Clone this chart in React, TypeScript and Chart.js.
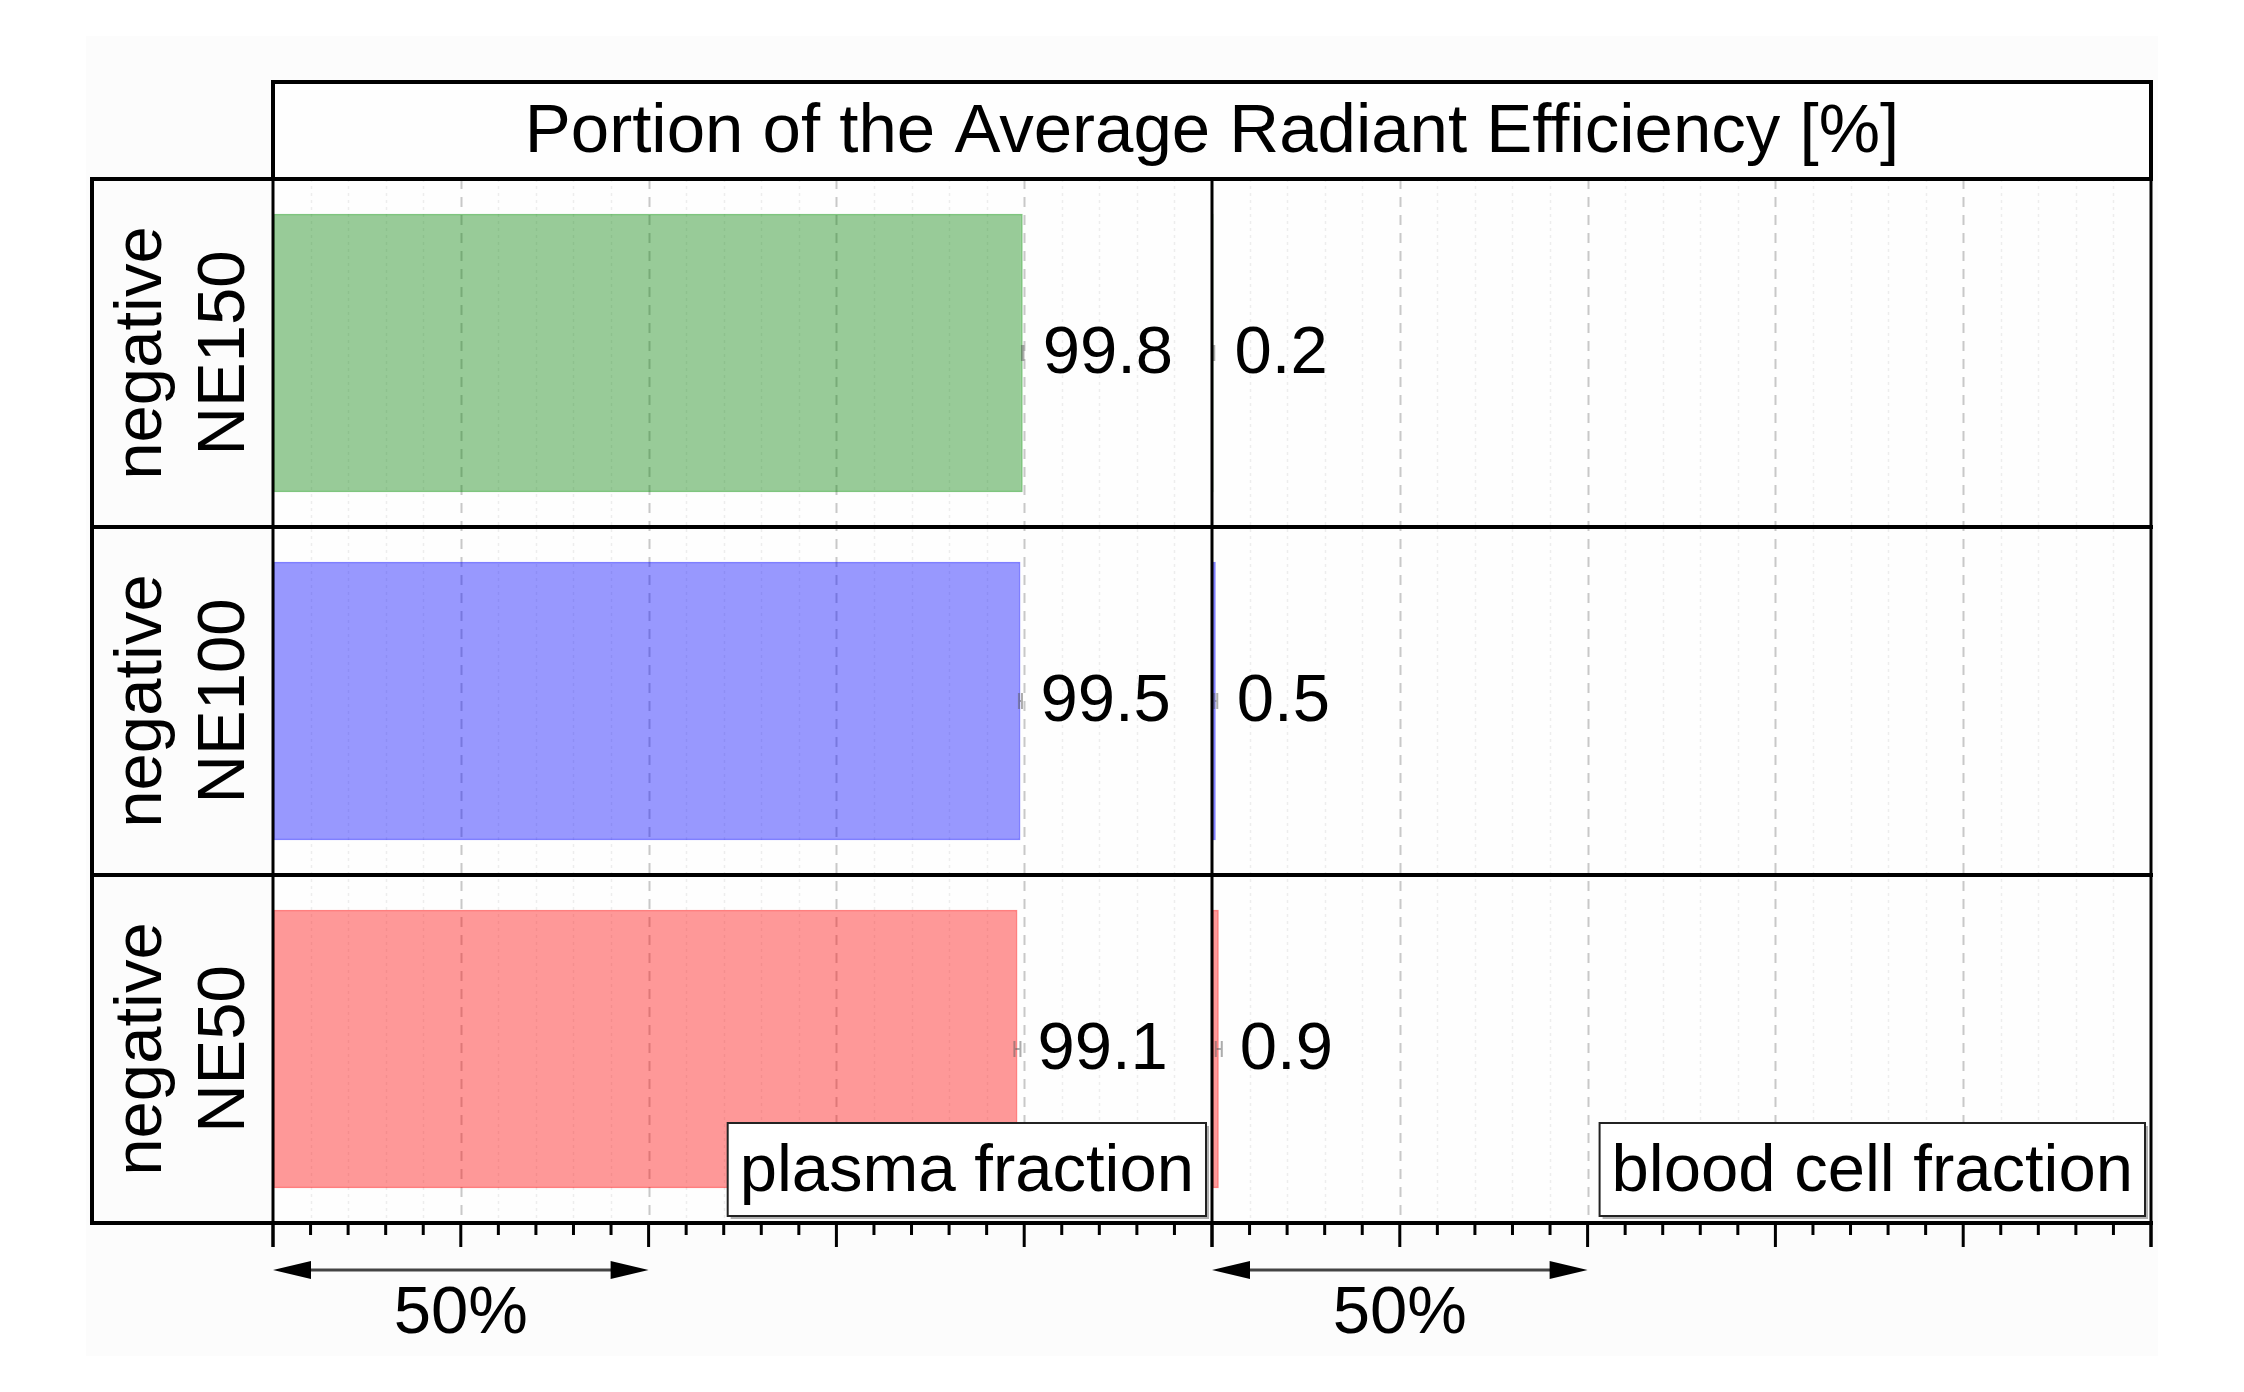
import React, { useEffect, useRef } from 'react';
import { Chart, registerables } from 'chart.js';

Chart.register(...registerables);

// ---- data ----
const groupLabel = 'negative';
const categories = ['NE150', 'NE100', 'NE50'];
const plasmaValues = [99.8, 99.5, 99.1];
const plasmaErrors = [0.1, 0.2, 0.4];
const bloodValues = [0.2, 0.5, 0.9];
const bloodErrors = [0.1, 0.2, 0.4];
const fillColors = ['rgba(0,128,0,0.4)', 'rgba(0,0,255,0.4)', 'rgba(255,0,0,0.4)'];
const edgeColors = ['rgba(0,140,0,0.5)', 'rgba(0,0,255,0.5)', 'rgba(255,0,0,0.5)'];
const panelLabels = ['plasma fraction', 'blood cell fraction'];
const titleText = 'Portion of the Average Radiant Efficiency [%]';
const panelMax = 125;
const majorStep = 25;
const minorStep = 5;
const scaleBarValue = 50;
const scaleBarLabel = '50%';

const FONT = '"Liberation Sans", Arial, Helvetica, sans-serif';
const TITLE_H = 97;
const LABEL_COL_W = 181;
const TICK_MAJOR = 24;
const TICK_MINOR = 12;

const decorPlugin = {
  id: 'decor',
  beforeDraw(chart: any) {
    const ctx = chart.ctx;
    const a = chart.chartArea;
    ctx.save();
    ctx.fillStyle = '#ffffff';
    ctx.fillRect(0, 0, chart.width, chart.height);
    ctx.fillStyle = '#fcfcfc';
    ctx.fillRect(86, 36, 2072, 1320);
    ctx.fillStyle = '#fefefe';
    ctx.fillRect(a.left, a.top - TITLE_H, a.right - a.left, a.bottom - a.top + TITLE_H);
    ctx.restore();
  },
  beforeDatasetsDraw(chart: any) {
    const { ctx, chartArea: a } = chart;
    const x = chart.scales.x;
    ctx.save();
    for (let p = 0; p < 2; p++) {
      for (let v = minorStep; v < panelMax; v += minorStep) {
        const px = Math.round(x.getPixelForValue(p * panelMax + v)) + 0.5;
        const major = v % majorStep === 0;
        ctx.beginPath();
        ctx.setLineDash(major ? [10, 8] : [3, 4]);
        ctx.strokeStyle = major ? '#c8c8c8' : '#ededed';
        ctx.lineWidth = major ? 2 : 1.5;
        ctx.moveTo(px, a.top);
        ctx.lineTo(px, a.bottom);
        ctx.stroke();
      }
    }
    ctx.restore();
  },
  afterDatasetsDraw(chart: any) {
    const { ctx, chartArea: a } = chart;
    const x = chart.scales.x;
    const y = chart.scales.y;
    const n = categories.length;
    const band = (a.bottom - a.top) / n;
    const labelLeft = a.left - LABEL_COL_W;
    const mid = x.getPixelForValue(panelMax);
    ctx.save();

    // error bars
    ctx.strokeStyle = 'rgba(90,90,90,0.5)';
    ctx.lineWidth = 2;
    const drawErr = (v: number, e: number, cy: number) => {
      const x1 = x.getPixelForValue(v - e);
      const x2 = x.getPixelForValue(v + e);
      ctx.beginPath();
      ctx.moveTo(x1, cy); ctx.lineTo(x2, cy);
      ctx.moveTo(x1, cy - 8); ctx.lineTo(x1, cy + 8);
      ctx.moveTo(x2, cy - 8); ctx.lineTo(x2, cy + 8);
      ctx.stroke();
    };
    for (let i = 0; i < n; i++) {
      const cy = y.getPixelForValue(i);
      drawErr(plasmaValues[i], plasmaErrors[i], cy);
      drawErr(panelMax + bloodValues[i], bloodErrors[i], cy);
    }

    // value labels
    ctx.fillStyle = '#000';
    ctx.font = `67px ${FONT}`;
    ctx.textAlign = 'left';
    ctx.textBaseline = 'middle';
    for (let i = 0; i < n; i++) {
      const cy = y.getPixelForValue(i) + 2;
      ctx.fillText(plasmaValues[i].toFixed(1), x.getPixelForValue(plasmaValues[i]) + 20, cy);
      ctx.fillText(bloodValues[i].toFixed(1), x.getPixelForValue(panelMax + bloodValues[i]) + 21, cy);
    }

    // frame
    ctx.strokeStyle = '#000';
    ctx.lineWidth = 4;
    ctx.strokeRect(a.left, a.top - TITLE_H, a.right - a.left, TITLE_H);
    for (let i = 0; i <= n; i++) {
      const yy = a.top + band * i;
      ctx.beginPath();
      ctx.moveTo(labelLeft - 2, yy);
      ctx.lineTo(a.right + 2, yy);
      ctx.stroke();
    }
    ctx.beginPath();
    ctx.moveTo(labelLeft, a.top);
    ctx.lineTo(labelLeft, a.bottom);
    ctx.stroke();
    ctx.lineWidth = 3;
    ctx.beginPath();
    ctx.moveTo(a.left, a.top - TITLE_H);
    ctx.lineTo(a.left, a.bottom + TICK_MAJOR);
    ctx.moveTo(a.right, a.top - TITLE_H);
    ctx.lineTo(a.right, a.bottom + TICK_MAJOR);
    ctx.moveTo(mid, a.top);
    ctx.lineTo(mid, a.bottom + TICK_MAJOR);
    ctx.stroke();

    // ticks
    ctx.lineWidth = 3;
    ctx.beginPath();
    for (let p = 0; p < 2; p++) {
      for (let v = 0; v <= panelMax; v += minorStep) {
        const px = x.getPixelForValue(p * panelMax + v);
        const len = v % majorStep === 0 ? TICK_MAJOR : TICK_MINOR;
        ctx.moveTo(px, a.bottom);
        ctx.lineTo(px, a.bottom + len);
      }
    }
    ctx.stroke();

    // panel label boxes
    ctx.font = `67px ${FONT}`;
    for (let p = 0; p < 2; p++) {
      const tw = ctx.measureText(panelLabels[p]).width;
      const bw = tw + 24;
      const bh = 93;
      const right = x.getPixelForValue((p + 1) * panelMax) - 6;
      const bottom = a.bottom - 7;
      const left = right - bw;
      const top = bottom - bh;
      ctx.fillStyle = '#b0b0b0';
      ctx.fillRect(left + 3, top + 3, bw, bh);
      ctx.fillStyle = '#ffffff';
      ctx.fillRect(left, top, bw, bh);
      ctx.strokeStyle = '#222';
      ctx.lineWidth = 2;
      ctx.strokeRect(left, top, bw, bh);
      ctx.fillStyle = '#000';
      ctx.textAlign = 'left';
      ctx.textBaseline = 'middle';
      ctx.fillText(panelLabels[p], left + 12, top + bh / 2 + 3);
    }

    // scale-bar arrows
    const ay = a.bottom + 47;
    for (let p = 0; p < 2; p++) {
      const x1 = x.getPixelForValue(p * panelMax);
      const x2 = x.getPixelForValue(p * panelMax + scaleBarValue);
      ctx.strokeStyle = '#444';
      ctx.lineWidth = 3;
      ctx.beginPath();
      ctx.moveTo(x1 + 20, ay);
      ctx.lineTo(x2 - 20, ay);
      ctx.stroke();
      ctx.fillStyle = '#000';
      ctx.beginPath();
      ctx.moveTo(x1, ay);
      ctx.lineTo(x1 + 38, ay - 9);
      ctx.lineTo(x1 + 38, ay + 9);
      ctx.closePath();
      ctx.fill();
      ctx.beginPath();
      ctx.moveTo(x2, ay);
      ctx.lineTo(x2 - 38, ay - 9);
      ctx.lineTo(x2 - 38, ay + 9);
      ctx.closePath();
      ctx.fill();
      ctx.font = `67px ${FONT}`;
      ctx.textAlign = 'center';
      ctx.textBaseline = 'middle';
      ctx.fillText(scaleBarLabel, x.getPixelForValue(p * panelMax + scaleBarValue / 2), a.bottom + 92);
    }

    // row labels
    ctx.fillStyle = '#000';
    ctx.font = `67px ${FONT}`;
    ctx.textAlign = 'center';
    ctx.textBaseline = 'middle';
    const cx = labelLeft + LABEL_COL_W / 2;
    for (let i = 0; i < n; i++) {
      const cy = y.getPixelForValue(i);
      ctx.save();
      ctx.translate(cx, cy);
      ctx.rotate(-Math.PI / 2);
      ctx.fillText(groupLabel, 0, -40);
      ctx.fillText(categories[i], 0, 43);
      ctx.restore();
    }

    // title
    ctx.font = `69px ${FONT}`;
    ctx.textAlign = 'center';
    ctx.textBaseline = 'middle';
    ctx.fillText(titleText, (a.left + a.right) / 2, a.top - TITLE_H / 2 + 2);

    ctx.restore();
  },
};

export default function App() {
  const ref = useRef<HTMLCanvasElement | null>(null);
  useEffect(() => {
    if (!ref.current) return;
    const chart = new Chart(ref.current, {
      type: 'bar',
      data: {
        labels: categories,
        datasets: [
          {
            label: panelLabels[0],
            data: plasmaValues,
            backgroundColor: fillColors,
            borderColor: edgeColors,
            borderWidth: 2,
            borderSkipped: false,
            grouped: false,
            barPercentage: 0.8,
            categoryPercentage: 1,
          } as any,
          {
            label: panelLabels[1],
            data: bloodValues.map((v) => [panelMax, panelMax + v]),
            backgroundColor: fillColors,
            borderColor: edgeColors,
            borderWidth: 2,
            borderSkipped: false,
            grouped: false,
            barPercentage: 0.8,
            categoryPercentage: 1,
          } as any,
        ],
      },
      options: {
        indexAxis: 'y',
        animation: false,
        responsive: false,
        devicePixelRatio: 1,
        layout: { padding: { left: 273, right: 93, top: 179, bottom: 169 } },
        plugins: { legend: { display: false }, tooltip: { enabled: false } },
        scales: {
          x: { type: 'linear', min: 0, max: panelMax * 2, display: false },
          y: { type: 'category', display: false },
        },
      },
      plugins: [decorPlugin],
    });
    return () => chart.destroy();
  }, []);
  return (
    <div style={{ position: 'absolute', left: 0, top: 0, width: 2244, height: 1392 }}>
      <canvas ref={ref} width={2244} height={1392} style={{ display: 'block', width: 2244, height: 1392 }} />
    </div>
  );
}
